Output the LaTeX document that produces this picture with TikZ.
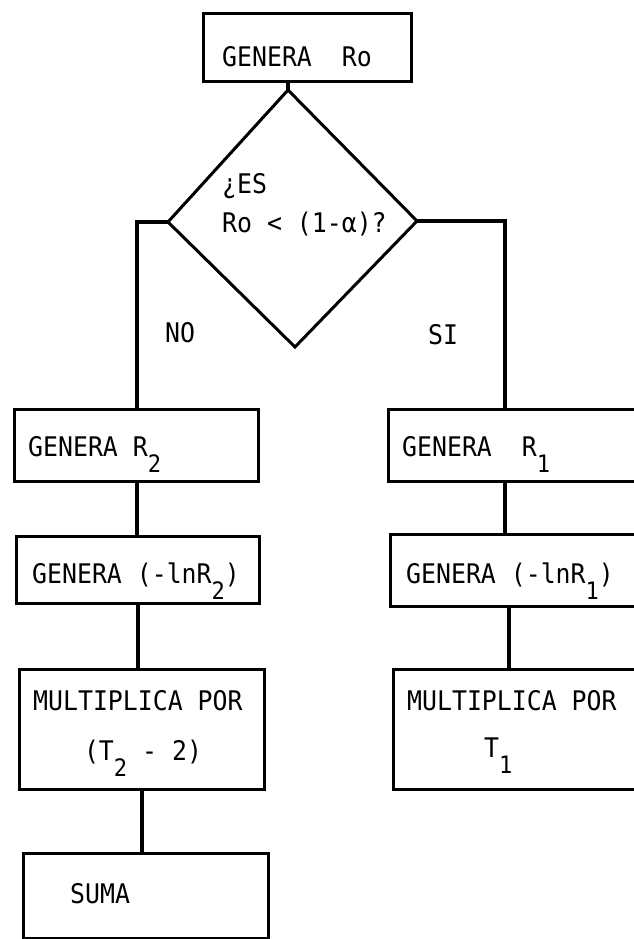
\documentclass[tikz,border=0pt]{standalone}
\usepackage{fontspec}
\setmonofont[FakeStretch=0.92]{DejaVu Sans Mono}
\usetikzlibrary{calc}
\newcommand{\dn}[1]{\raisebox{-16pt}{\fontsize{24}{24}\selectfont #1}}
\begin{document}
\begin{tikzpicture}[x=1pt,y=-1pt,
  box/.style={draw, rectangle, line width=3.4pt, inner sep=0pt, anchor=north west},
  lbl/.style={font=\ttfamily\fontsize{27}{27}\selectfont, inner sep=0pt, anchor=base west},
  clbl/.style={font=\ttfamily\fontsize{27}{27}\selectfont, inner sep=0pt, anchor=base},
  conn/.style={line width=3.6pt},
  dline/.style={line width=3pt, line join=miter}]
\fill[white] (0,0) rectangle (634,939);
\clip (0,0) rectangle (634,939);
% boxes
\node[box, minimum width=208pt, minimum height=68pt] (top) at (202,12) {};
\node[box, minimum width=244pt, minimum height=72pt] (R2) at (13,408) {};
\node[box, minimum width=243pt, minimum height=67pt] (lnR2) at (15,535) {};
\node[box, minimum width=245pt, minimum height=120pt] (mult2) at (18,668) {};
\node[box, minimum width=245pt, minimum height=85pt] (suma) at (22,852) {};
\node[box, minimum width=280pt, minimum height=72pt] (R1) at (387,408) {};
\node[box, minimum width=280pt, minimum height=72pt] (lnR1) at (389,533) {};
\node[box, minimum width=280pt, minimum height=120pt] (mult1) at (392,668) {};
% diamond
\coordinate (dt) at (288,90);
\coordinate (dr) at (417,221);
\coordinate (db) at (295,347);
\coordinate (dl) at (168,222);
\coordinate (rj) at (505,408);
\draw[dline] (dt) -- (dr) -- (db) -- (dl) -- cycle;
% connectors
\draw[conn] (dt |- top.south) -- (dt);
\draw[conn] (dl) -| (R2.north);
\draw[conn] (dr) -| (rj);
\draw[conn] (R2.south) -- (R2.south |- lnR2.north);
\draw[conn] (lnR2.south) -- (lnR2.south |- mult2.north);
\draw[conn] (mult2.south) -- (mult2.south |- suma.north);
\draw[conn] (R1.south -| rj) -- (lnR1.north -| rj);
\draw[conn] ($(lnR1.south -| rj)+(4,0)$) -- ($(mult1.north -| rj)+(4,0)$);
% texts
\node[lbl] (ttop) at (222,67) {GENERA~~Ro};
\node[lbl] (tq1) at (222,193) {¿ES};
\node[lbl] (tq2) at (222,232) {Ro < (1-α)?};
\node[lbl, anchor=base] (tno) at (180,342) {NO};
\node[lbl, anchor=base] (tsi) at (443,344) {SI};
\node[lbl] (tR2) at (28,456) {GENERA R\dn{2}};
\node[lbl] (tlnR2) at (32,583) {GENERA (-lnR\dn{2})};
\node[lbl] (tm2a) at (33,710) {MULTIPLICA POR};
\node[clbl] (tm2b) at (143,760) {(T\dn{2} - 2)};
\node[lbl] (tsuma) at (70,903) {SUMA};
\node[lbl] (tR1) at (402,456) {GENERA~~R\dn{1}};
\node[lbl] (tlnR1) at (406,583) {GENERA (-lnR\dn{1})};
\node[lbl] (tm1a) at (407,710) {MULTIPLICA POR};
\node[lbl] (tm1b) at (484,757) {T\dn{1}};
\end{tikzpicture}
\end{document}
